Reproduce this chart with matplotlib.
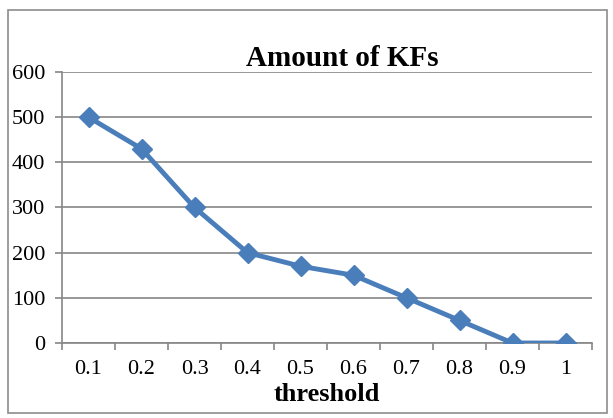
import matplotlib
matplotlib.use("Agg")
import matplotlib.pyplot as plt
from matplotlib.patches import Rectangle

categories = ["0.1", "0.2", "0.3", "0.4", "0.5", "0.6", "0.7", "0.8", "0.9", "1"]
values = [500, 430, 300, 200, 170, 150, 100, 50, 0, 0]
yticks = [0, 100, 200, 300, 400, 500, 600]

plt.rcParams['font.family'] = ['Liberation Serif', 'DejaVu Serif']

fig = plt.figure(figsize=(6.13, 4.18), dpi=100)
fig.patch.set_facecolor('white')
fig.patches.append(Rectangle((8/613, 1 - 413/418), 599/613, 403/418, transform=fig.transFigure,
                             fill=False, edgecolor='#8c8c8c', linewidth=1.2))

ax = fig.add_axes([62/613, 1 - 343/418, 530/613, 271/418])
x = list(range(len(categories)))
ax.plot(x, values, color='#4a7ebb', linewidth=3.5, marker='D', markersize=10.5,
        markerfacecolor='#4a7ebb', markeredgecolor='#4a7ebb', zorder=3)

ax.set_xlim(-0.5, len(categories) - 0.5)
ax.set_ylim(0, 600)
ax.set_yticks(yticks)
ax.set_yticklabels([str(v) for v in yticks], fontsize=16)
ax.set_xticks(x)
ax.set_xticklabels(categories, fontsize=16)
ax.set_xticks([i - 0.5 for i in range(len(categories) + 1)], minor=True)
ax.tick_params(axis='x', which='major', length=0, pad=12)
ax.tick_params(axis='x', which='minor', length=5, color='#868686', width=1.2)
ax.tick_params(axis='y', length=5, color='#868686', width=1.2, pad=7)
ax.grid(axis='y', color='#868686', linewidth=1.2)
ax.set_axisbelow(True)
for s in ['top', 'right']:
    ax.spines[s].set_visible(False)
for s in ['left', 'bottom']:
    ax.spines[s].set_color('#868686')
    ax.spines[s].set_linewidth(1.2)

ax.set_xlabel('threshold', fontsize=19, fontweight='bold', labelpad=3)
fig.text(342/613, 1 - 58/418, 'Amount of KFs', fontsize=21, fontweight='bold',
         ha='center', va='center')

fig.savefig('out.png', dpi=100)
